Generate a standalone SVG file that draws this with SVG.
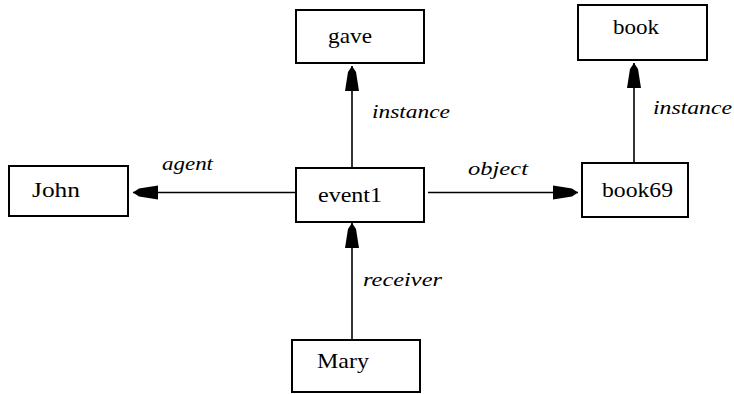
<svg xmlns="http://www.w3.org/2000/svg" width="734" height="394" viewBox="0 0 734 394">
<style>
.box{fill:#fff;stroke:#000;stroke-width:2}
.lbl{font-size:21px;fill:#000}
.edge{font-style:italic;font-size:19px;fill:#000}
.ln{stroke:#000;stroke-width:1.6;fill:none}
</style>
<defs>
<marker id="ah" viewBox="-26 -8 27 16" refX="0" refY="0" markerWidth="27" markerHeight="16" markerUnits="userSpaceOnUse" orient="auto">
<path d="M0,0 L-6,-4 L-25,-7 L-25,7 L-6,4 Z" fill="#000"/>
</marker>
</defs>
<rect width="734" height="394" fill="#fff"/>
<g id="connectors">
<line class="ln" x1="296" y1="192.5" x2="133" y2="192.5" marker-end="url(#ah)"/>
<line class="ln" x1="428" y1="192.5" x2="578" y2="192.5" marker-end="url(#ah)"/>
<line class="ln" x1="352" y1="168" x2="352" y2="66" marker-end="url(#ah)"/>
<line class="ln" x1="634" y1="163" x2="634" y2="63" marker-end="url(#ah)"/>
<line class="ln" x1="352" y1="340" x2="352" y2="223" marker-end="url(#ah)"/>
<g font-family="Liberation Serif, serif">
<text class="edge" x="162" y="170" textLength="51" lengthAdjust="spacingAndGlyphs">agent</text>
<text class="edge" x="468" y="175" textLength="60" lengthAdjust="spacingAndGlyphs">object</text>
<text class="edge" x="372" y="118" textLength="78" lengthAdjust="spacingAndGlyphs">instance</text>
<text class="edge" x="653" y="114" textLength="79" lengthAdjust="spacingAndGlyphs">instance</text>
<text class="edge" x="363" y="286" textLength="79" lengthAdjust="spacingAndGlyphs">receiver</text>
</g>
</g>
<g font-family="Liberation Serif, serif">
<g id="gave">
<rect class="box" x="296" y="10" width="128" height="53"/>
<text class="lbl" x="328" y="43" textLength="44" lengthAdjust="spacingAndGlyphs">gave</text>
</g>
<g id="book">
<rect class="box" x="578" y="5" width="129" height="55"/>
<text class="lbl" x="613" y="34" textLength="46" lengthAdjust="spacingAndGlyphs">book</text>
</g>
<g id="John">
<rect class="box" x="9" y="166" width="119" height="50"/>
<text class="lbl" x="32" y="197" textLength="48" lengthAdjust="spacingAndGlyphs">John</text>
</g>
<g id="event1">
<rect class="box" x="296" y="168" width="128" height="54"/>
<text class="lbl" x="318" y="202" textLength="64" lengthAdjust="spacingAndGlyphs">event1</text>
</g>
<g id="book69">
<rect class="box" x="582" y="163" width="106" height="54"/>
<text class="lbl" x="602" y="197" textLength="71" lengthAdjust="spacingAndGlyphs">book69</text>
</g>
<g id="Mary">
<rect class="box" x="292" y="340" width="128" height="52"/>
<text class="lbl" x="317" y="368" textLength="52" lengthAdjust="spacingAndGlyphs">Mary</text>
</g>
</g>
</svg>
